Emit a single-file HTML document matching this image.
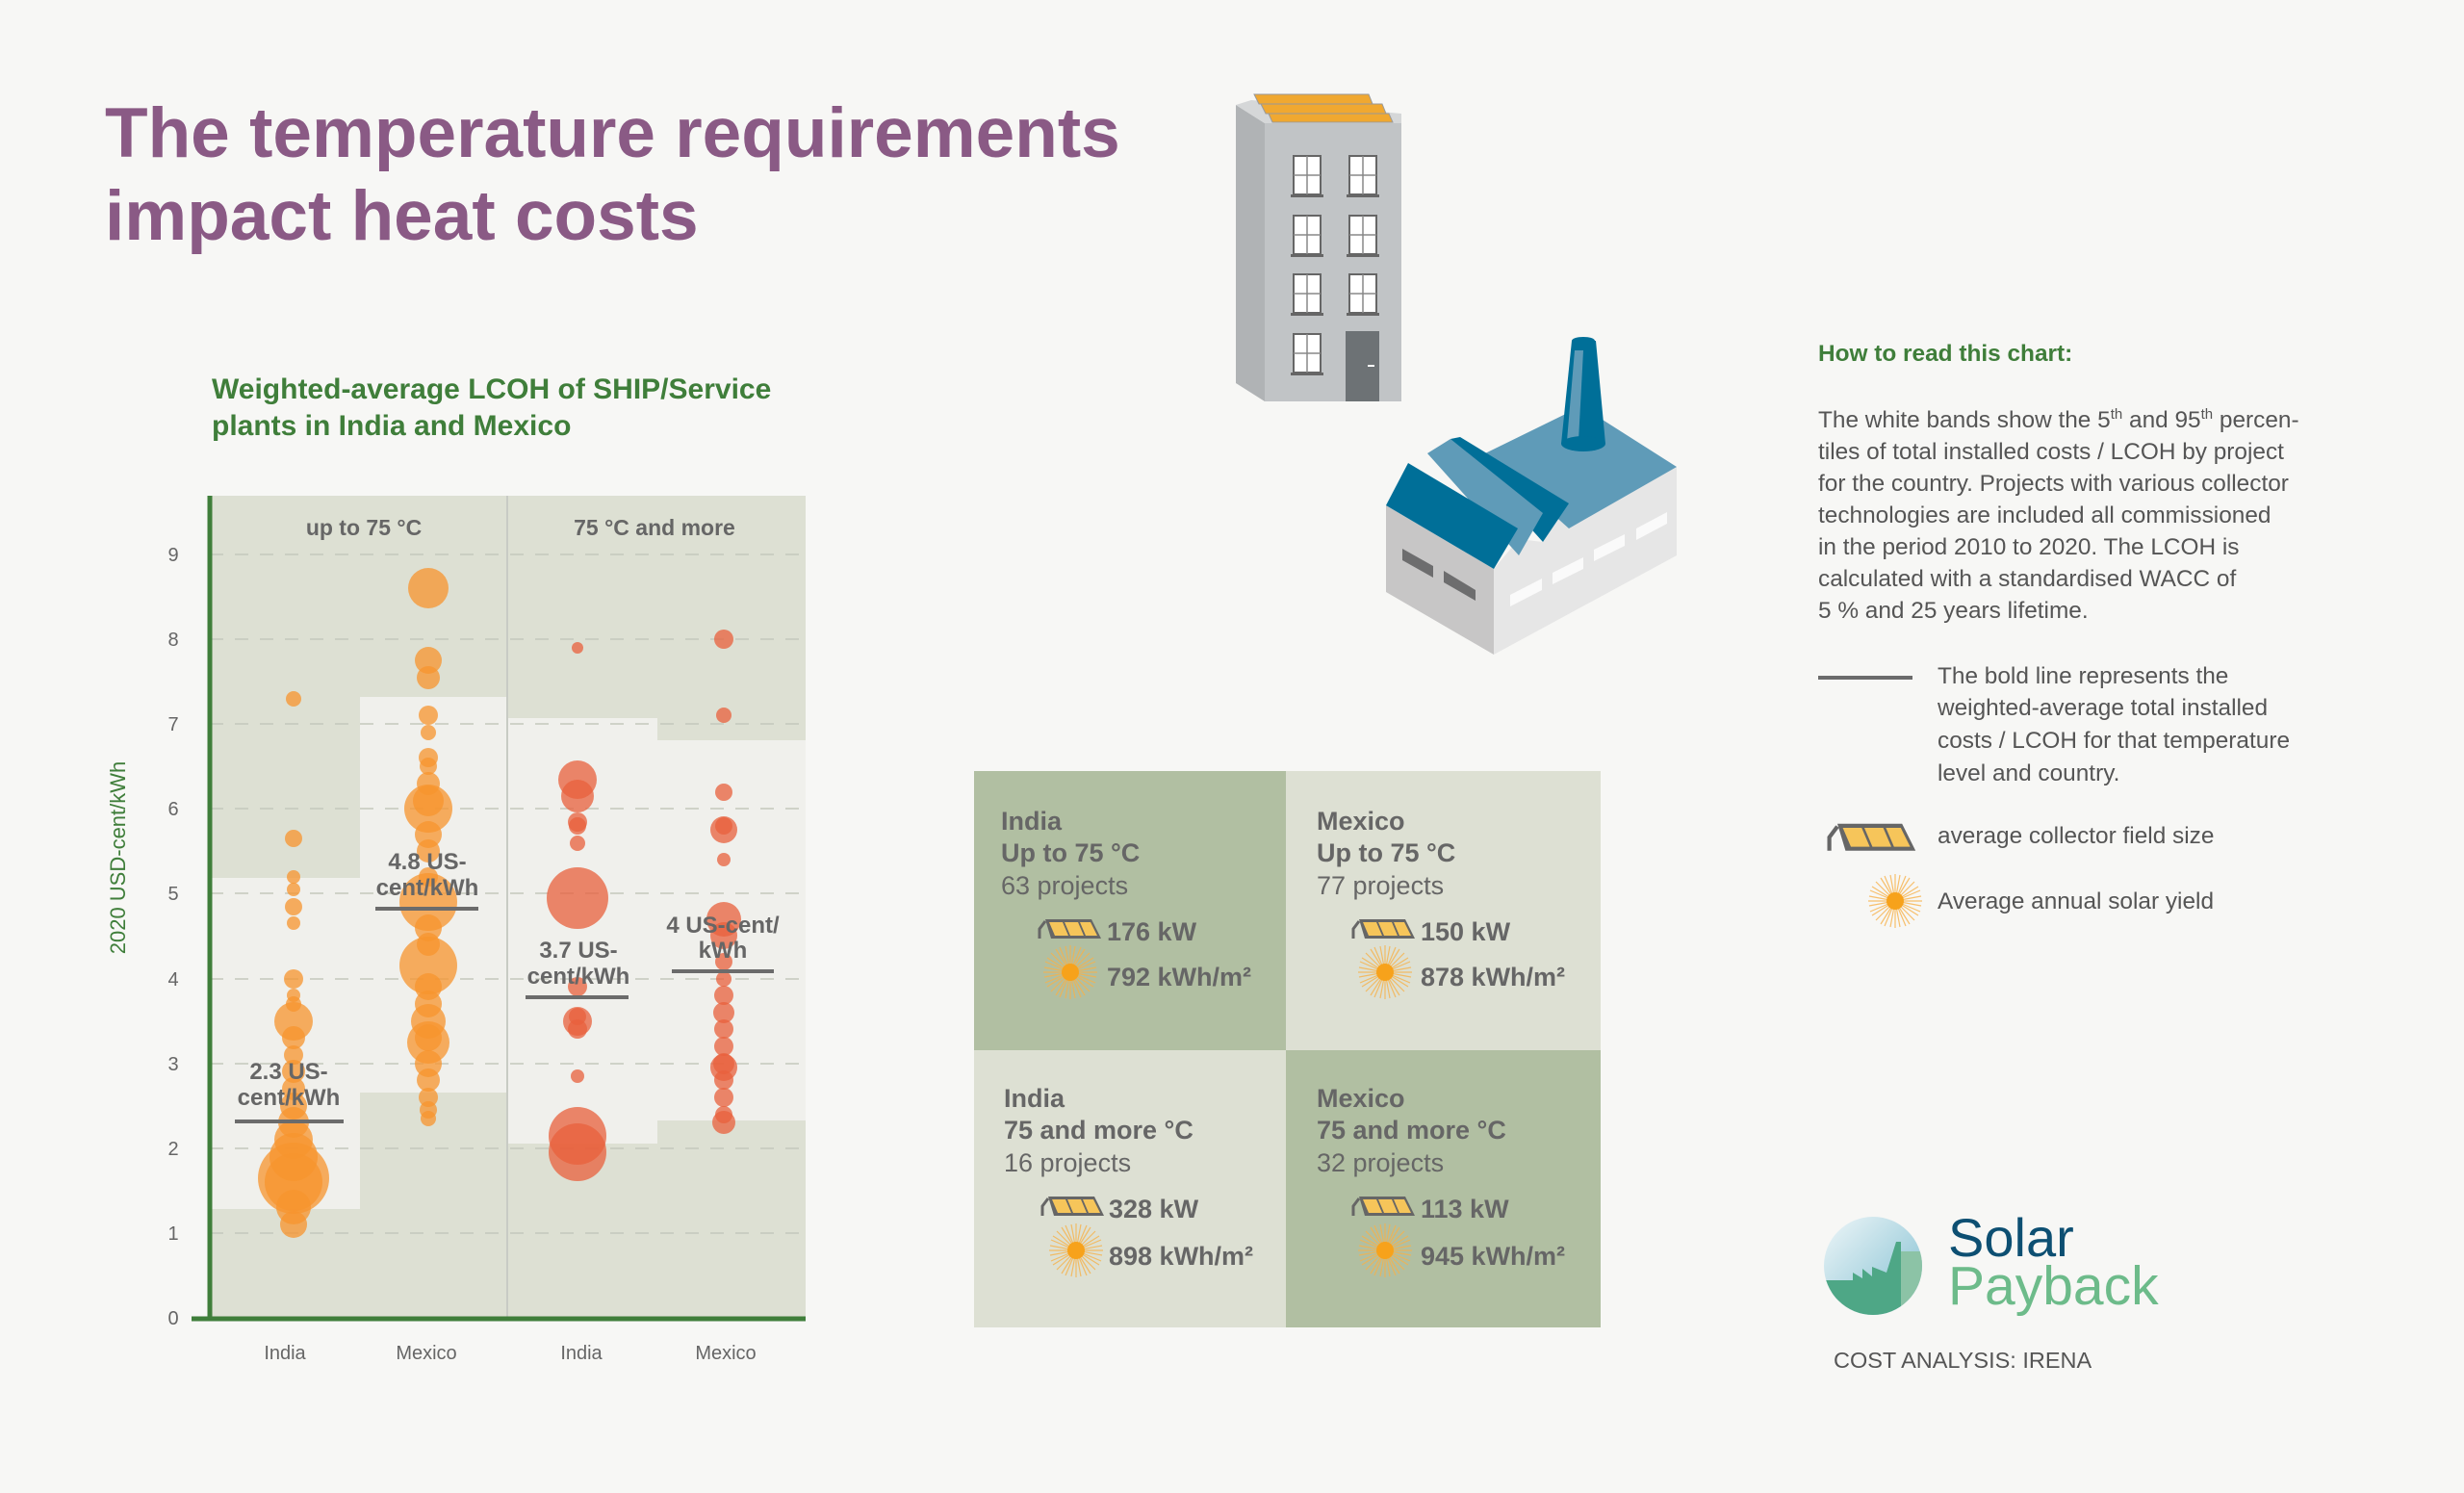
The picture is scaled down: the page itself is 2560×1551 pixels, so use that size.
<!DOCTYPE html>
<html><head><meta charset="utf-8"><style>
html,body{margin:0;padding:0;background:#f7f7f5;}
svg{display:block;font-family:"Liberation Sans",sans-serif;}
</style></head><body>
<svg width="2560" height="1551" viewBox="0 0 2560 1551" xmlns="http://www.w3.org/2000/svg">
<defs>
<g id="coll">
<path d="M4 22 L4 12 L10 4" stroke="#666" stroke-width="3" fill="none"/>
<polygon points="10,2 58,2 68,22 16,22" fill="#666"/>
<polygon points="14,5 28,5 34,19 20,19" fill="#f6c55a"/>
<polygon points="30,5 44,5 50,19 36,19" fill="#f6c55a"/>
<polygon points="46,5 57,5 64,19 52,19" fill="#f6c55a"/>
</g>
<g id="sun">
<g stroke="#f7b24a" stroke-width="1.2" opacity="0.8">
<line x1="-28" y1="0" x2="28" y2="0"/><line x1="0" y1="-28" x2="0" y2="28"/>
<line x1="-20" y1="-20" x2="20" y2="20"/><line x1="-20" y1="20" x2="20" y2="-20"/>
<line x1="-26" y1="-11" x2="26" y2="11"/><line x1="-26" y1="11" x2="26" y2="-11"/>
<line x1="-11" y1="-26" x2="11" y2="26"/><line x1="-11" y1="26" x2="11" y2="-26"/>
<line x1="-27" y1="-5" x2="27" y2="5"/><line x1="-27" y1="5" x2="27" y2="-5"/>
<line x1="-5" y1="-27" x2="5" y2="27"/><line x1="-5" y1="27" x2="5" y2="-27"/>
<line x1="-24" y1="-15" x2="24" y2="15"/><line x1="-24" y1="15" x2="24" y2="-15"/>
<line x1="-15" y1="-24" x2="15" y2="24"/><line x1="-15" y1="24" x2="15" y2="-24"/>
</g>
<circle r="9" fill="#f7a21b"/>
</g>
</defs>

<text x="109" y="163" font-size="73" font-weight="bold" fill="#8a5a85">The temperature requirements</text>
<text x="109" y="249" font-size="73" font-weight="bold" fill="#8a5a85">impact heat costs</text>

<text x="220" y="414" font-size="30" font-weight="bold" fill="#3f7e3a">Weighted-average LCOH of SHIP/Service</text>
<text x="220" y="452" font-size="30" font-weight="bold" fill="#3f7e3a">plants in India and Mexico</text>

<rect x="218" y="515" width="619" height="855" fill="#dde0d3"/>
<rect x="218" y="912" width="156" height="344" fill="#f0f0ec"/>
<rect x="374" y="724" width="153" height="411" fill="#f0f0ec"/>
<rect x="527" y="746" width="156" height="442" fill="#f0f0ec"/>
<rect x="683" y="769" width="154" height="395" fill="#f0f0ec"/>
<line x1="527" y1="515" x2="527" y2="1370" stroke="#c8cbc4" stroke-width="2"/>
<g stroke="#c4c8bc" stroke-width="1.5" stroke-dasharray="14,12">
<line x1="218" y1="576" x2="837" y2="576"/><line x1="218" y1="664" x2="837" y2="664"/>
<line x1="218" y1="752" x2="837" y2="752"/><line x1="218" y1="840" x2="837" y2="840"/>
<line x1="218" y1="928" x2="837" y2="928"/><line x1="218" y1="1017" x2="837" y2="1017"/>
<line x1="218" y1="1105" x2="837" y2="1105"/><line x1="218" y1="1193" x2="837" y2="1193"/>
<line x1="218" y1="1281" x2="837" y2="1281"/>
</g>
<g font-size="20" fill="#666" text-anchor="middle">
<text x="180" y="1376">0</text><text x="180" y="1288">1</text><text x="180" y="1200">2</text>
<text x="180" y="1112">3</text><text x="180" y="1024">4</text><text x="180" y="935">5</text>
<text x="180" y="847">6</text><text x="180" y="759">7</text><text x="180" y="671">8</text>
<text x="180" y="583">9</text>
<text x="296" y="1412">India</text><text x="443" y="1412">Mexico</text>
<text x="604" y="1412">India</text><text x="754" y="1412">Mexico</text>
</g>
<text transform="translate(130,891) rotate(-90)" font-size="22" fill="#3f7e3a" text-anchor="middle">2020 USD-cent/kWh</text>
<g font-size="23" font-weight="bold" fill="#666" text-anchor="middle">
<text x="378" y="556">up to 75 °C</text><text x="680" y="556">75 °C and more</text>
</g>

<g fill="#f7942e" fill-opacity="0.75">
<circle cx="305" cy="726" r="8"/><circle cx="305" cy="871" r="9"/><circle cx="305" cy="911" r="7"/>
<circle cx="305" cy="924" r="7"/><circle cx="305" cy="942" r="9"/><circle cx="305" cy="959" r="7"/>
<circle cx="305" cy="1017" r="10"/><circle cx="305" cy="1034" r="7"/><circle cx="305" cy="1043" r="8"/>
<circle cx="305" cy="1061" r="20"/><circle cx="305" cy="1078" r="12"/><circle cx="305" cy="1096" r="10"/>
<circle cx="305" cy="1113" r="12"/><circle cx="305" cy="1131" r="12"/><circle cx="305" cy="1149" r="14"/>
<circle cx="305" cy="1166" r="16"/><circle cx="305" cy="1184" r="20"/><circle cx="305" cy="1202" r="25"/>
<circle cx="305" cy="1224" r="37"/><circle cx="305" cy="1228" r="30"/><circle cx="305" cy="1254" r="18"/>
<circle cx="305" cy="1272" r="14"/>
</g>
<g fill="#f7942e" fill-opacity="0.75">
<circle cx="445" cy="611" r="21"/><circle cx="445" cy="686" r="14"/><circle cx="445" cy="704" r="12"/>
<circle cx="445" cy="743" r="10"/><circle cx="445" cy="761" r="8"/><circle cx="445" cy="787" r="10"/>
<circle cx="445" cy="796" r="9"/><circle cx="445" cy="814" r="12"/><circle cx="445" cy="840" r="25"/>
<circle cx="445" cy="832" r="16"/><circle cx="445" cy="867" r="14"/><circle cx="445" cy="884" r="12"/>
<circle cx="445" cy="911" r="10"/><circle cx="445" cy="937" r="30"/><circle cx="445" cy="964" r="14"/>
<circle cx="445" cy="981" r="12"/><circle cx="445" cy="1003" r="30"/><circle cx="445" cy="1025" r="14"/>
<circle cx="445" cy="1043" r="14"/><circle cx="445" cy="1061" r="18"/><circle cx="445" cy="1078" r="14"/>
<circle cx="445" cy="1083" r="22"/><circle cx="445" cy="1105" r="14"/><circle cx="445" cy="1122" r="12"/>
<circle cx="445" cy="1140" r="10"/><circle cx="445" cy="1153" r="9"/><circle cx="445" cy="1162" r="8"/>
</g>
<g fill="#e8603c" fill-opacity="0.75">
<circle cx="600" cy="673" r="6"/><circle cx="600" cy="810" r="20"/><circle cx="600" cy="827" r="17"/>
<circle cx="600" cy="854" r="10"/><circle cx="600" cy="858" r="9"/><circle cx="600" cy="876" r="8"/>
<circle cx="600" cy="933" r="32"/><circle cx="600" cy="1025" r="10"/><circle cx="600" cy="1056" r="9"/>
<circle cx="600" cy="1061" r="15"/><circle cx="600" cy="1069" r="10"/><circle cx="600" cy="1118" r="7"/>
<circle cx="600" cy="1180" r="30"/><circle cx="600" cy="1197" r="30"/>
</g>
<g fill="#e8603c" fill-opacity="0.75">
<circle cx="752" cy="664" r="10"/><circle cx="752" cy="743" r="8"/><circle cx="752" cy="823" r="9"/>
<circle cx="752" cy="858" r="9"/><circle cx="752" cy="862" r="14"/><circle cx="752" cy="893" r="7"/>
<circle cx="752" cy="955" r="18"/><circle cx="752" cy="972" r="14"/><circle cx="752" cy="999" r="9"/>
<circle cx="752" cy="1017" r="8"/><circle cx="752" cy="1034" r="10"/><circle cx="752" cy="1052" r="11"/>
<circle cx="752" cy="1069" r="10"/><circle cx="752" cy="1087" r="10"/><circle cx="752" cy="1105" r="11"/>
<circle cx="752" cy="1109" r="14"/><circle cx="752" cy="1122" r="10"/><circle cx="752" cy="1140" r="10"/>
<circle cx="752" cy="1158" r="9"/><circle cx="752" cy="1166" r="12"/>
</g>

<g stroke="#6b6b6b" stroke-width="4">
<line x1="244" y1="1165" x2="357" y2="1165"/><line x1="390" y1="944" x2="497" y2="944"/>
<line x1="546" y1="1036" x2="653" y2="1036"/><line x1="698" y1="1009" x2="804" y2="1009"/>
</g>
<g font-size="24" font-weight="bold" fill="#666" text-anchor="middle">
<text x="300" y="1121">2.3 US-</text><text x="300" y="1148">cent/kWh</text>
<text x="444" y="903">4.8 US-</text><text x="444" y="930">cent/kWh</text>
<text x="601" y="995">3.7 US-</text><text x="601" y="1022">cent/kWh</text>
<text x="751" y="969">4 US-cent/</text><text x="751" y="995">kWh</text>
</g>
<line x1="218" y1="515" x2="218" y2="1372" stroke="#3f7e3a" stroke-width="5"/>
<line x1="199" y1="1370" x2="837" y2="1370" stroke="#3f7e3a" stroke-width="5"/>

<rect x="1012" y="801" width="324" height="290" fill="#b1bfa2"/>
<rect x="1336" y="801" width="327" height="290" fill="#dde0d3"/>
<rect x="1012" y="1091" width="324" height="288" fill="#dde0d3"/>
<rect x="1336" y="1091" width="327" height="288" fill="#b1bfa2"/>
<g fill="#666" font-size="27">
<text x="1040" y="862" font-weight="bold">India</text><text x="1040" y="895" font-weight="bold">Up to 75 °C</text><text x="1040" y="929">63 projects</text>
<text x="1368" y="862" font-weight="bold">Mexico</text><text x="1368" y="895" font-weight="bold">Up to 75 °C</text><text x="1368" y="929">77 projects</text>
<text x="1043" y="1150" font-weight="bold">India</text><text x="1043" y="1183" font-weight="bold">75 and more °C</text><text x="1043" y="1217">16 projects</text>
<text x="1368" y="1150" font-weight="bold">Mexico</text><text x="1368" y="1183" font-weight="bold">75 and more °C</text><text x="1368" y="1217">32 projects</text>
</g>
<g fill="#666" font-size="27" font-weight="bold">
<text x="1150" y="977">176 kW</text><text x="1150" y="1024">792 kWh/m²</text>
<text x="1476" y="977">150 kW</text><text x="1476" y="1024">878 kWh/m²</text>
<text x="1152" y="1265">328 kW</text><text x="1152" y="1314">898 kWh/m²</text>
<text x="1476" y="1265">113 kW</text><text x="1476" y="1314">945 kWh/m²</text>
</g>
<use href="#coll" x="1076" y="953"/><use href="#sun" x="1112" y="1010"/>
<use href="#coll" x="1402" y="953"/><use href="#sun" x="1439" y="1010"/>
<use href="#coll" x="1079" y="1241"/><use href="#sun" x="1118" y="1299"/>
<use href="#coll" x="1402" y="1241"/><use href="#sun" x="1439" y="1299"/>

<polygon points="1284,109 1314,128 1314,417 1284,398" fill="#b0b3b5"/>
<rect x="1314" y="128" width="142" height="289" fill="#c1c4c6"/>
<polygon points="1284,109 1300,104 1456,118 1456,128 1314,128" fill="#d5d7d8"/>
<g fill="#f0a830" stroke="#999" stroke-width="1">
<polygon points="1303,98 1422,98 1426,108 1308,108"/>
<polygon points="1310,108 1436,108 1440,118 1315,118"/>
<polygon points="1318,118 1443,118 1447,127 1322,127"/>
</g>
<g fill="#fff" stroke="#666" stroke-width="2">
<rect x="1344" y="162" width="28" height="40"/><rect x="1402" y="162" width="28" height="40"/>
<rect x="1344" y="224" width="28" height="40"/><rect x="1402" y="224" width="28" height="40"/>
<rect x="1344" y="285" width="28" height="40"/><rect x="1402" y="285" width="28" height="40"/>
<rect x="1344" y="347" width="28" height="40"/>
</g>
<g stroke="#888" stroke-width="1.5">
<path d="M1358 162v40M1344 182h28M1416 162v40M1402 182h28M1358 224v40M1344 244h28M1416 224v40M1402 244h28M1358 285v40M1344 305h28M1416 285v40M1402 305h28M1358 347v40M1344 367h28"/>
</g>
<g fill="#666">
<rect x="1341" y="202" width="34" height="3"/><rect x="1399" y="202" width="34" height="3"/>
<rect x="1341" y="264" width="34" height="3"/><rect x="1399" y="264" width="34" height="3"/>
<rect x="1341" y="325" width="34" height="3"/><rect x="1399" y="325" width="34" height="3"/>
<rect x="1341" y="387" width="34" height="3"/>
</g>
<rect x="1398" y="344" width="35" height="73" fill="#6d7275"/>
<rect x="1421" y="379" width="7" height="2" fill="#fff"/>

<polygon points="1552,591 1578,560 1603,563 1630,523 1742,485 1742,577 1552,680" fill="#e6e6e6"/>
<polygon points="1440,525 1552,591 1552,680 1440,615" fill="#c7c6c6"/>
<polygon points="1543,471 1643,422 1742,485 1630,549" fill="#5f9bb8"/>
<polygon points="1507,456 1517,454 1630,523 1603,563" fill="#006f98"/>
<polygon points="1483,471 1507,456 1603,533 1578,577" fill="#5f9bb8"/>
<polygon points="1440,525 1463,481 1577,549 1552,591" fill="#006f98"/>
<polygon points="1622,461 1633,354 1658,354 1668,461" fill="#006f98"/>
<polygon points="1628,458 1636,364 1645,364 1640,458" fill="#5f9bb8"/>
<ellipse cx="1645" cy="461" rx="23" ry="8" fill="#006f98"/>
<ellipse cx="1645" cy="354" rx="12" ry="4" fill="#006f98"/>
<g fill="#6d6d6e">
<polygon points="1457,570 1489,588 1489,600 1457,582"/>
<polygon points="1500,593 1533,613 1533,624 1500,605"/>
</g>
<g fill="#fafafa">
<polygon points="1569,618 1602,601 1602,613 1569,630"/>
<polygon points="1613,595 1645,579 1645,591 1613,607"/>
<polygon points="1656,571 1688,555 1688,567 1656,583"/>
<polygon points="1700,549 1732,532 1732,544 1700,561"/>
</g>

<text x="1889" y="375" font-size="24.4" font-weight="bold" fill="#3f7e3a">How to read this chart:</text>
<g font-size="24.4" fill="#555">
<text x="1889" y="444">The white bands show the 5<tspan font-size="15" dy="-9">th</tspan><tspan dy="9"> and 95</tspan><tspan font-size="15" dy="-9">th</tspan><tspan dy="9"> percen-</tspan></text>
<text x="1889" y="477">tiles of total installed costs / LCOH by project</text>
<text x="1889" y="510">for the country. Projects with various collector</text>
<text x="1889" y="543">technologies are included all commissioned</text>
<text x="1889" y="576">in the period 2010 to 2020. The LCOH is</text>
<text x="1889" y="609">calculated with a standardised WACC of</text>
<text x="1889" y="642">5 % and 25 years lifetime.</text>
<text x="2013" y="710">The bold line represents the</text>
<text x="2013" y="743">weighted-average total installed</text>
<text x="2013" y="777">costs / LCOH for that temperature</text>
<text x="2013" y="811">level and country.</text>
<text x="2013" y="876">average collector field size</text>
<text x="2013" y="944">Average annual solar yield</text>
</g>
<line x1="1889" y1="704" x2="1987" y2="704" stroke="#6b6b6b" stroke-width="4"/>
<g transform="translate(1895,853) scale(1.4)"><use href="#coll"/></g>
<use href="#sun" x="1969" y="936"/>

<defs>
<linearGradient id="lg" x1="0" y1="0" x2="1" y2="1">
<stop offset="0" stop-color="#eef6f8"/><stop offset="1" stop-color="#7dbdd0"/>
</linearGradient>
<clipPath id="cc"><circle cx="1946" cy="1315" r="51"/></clipPath>
</defs>
<circle cx="1946" cy="1315" r="51" fill="url(#lg)"/>
<g clip-path="url(#cc)">
<polygon points="1890,1330 1925,1330 1925,1322 1935,1328 1935,1318 1945,1326 1945,1316 1960,1322 1970,1290 1975,1290 1975,1370 1890,1370" fill="#4ea786"/>
<rect x="1975" y="1300" width="30" height="70" fill="#8cc3a6"/>
</g>
<text x="2024" y="1305" font-size="56" fill="#0d4f72">Solar</text>
<text x="2024" y="1355" font-size="57" fill="#6dbb8a">Payback</text>
<text x="1905" y="1421" font-size="23.5" fill="#555">COST ANALYSIS: IRENA</text>
</svg>
</body></html>
